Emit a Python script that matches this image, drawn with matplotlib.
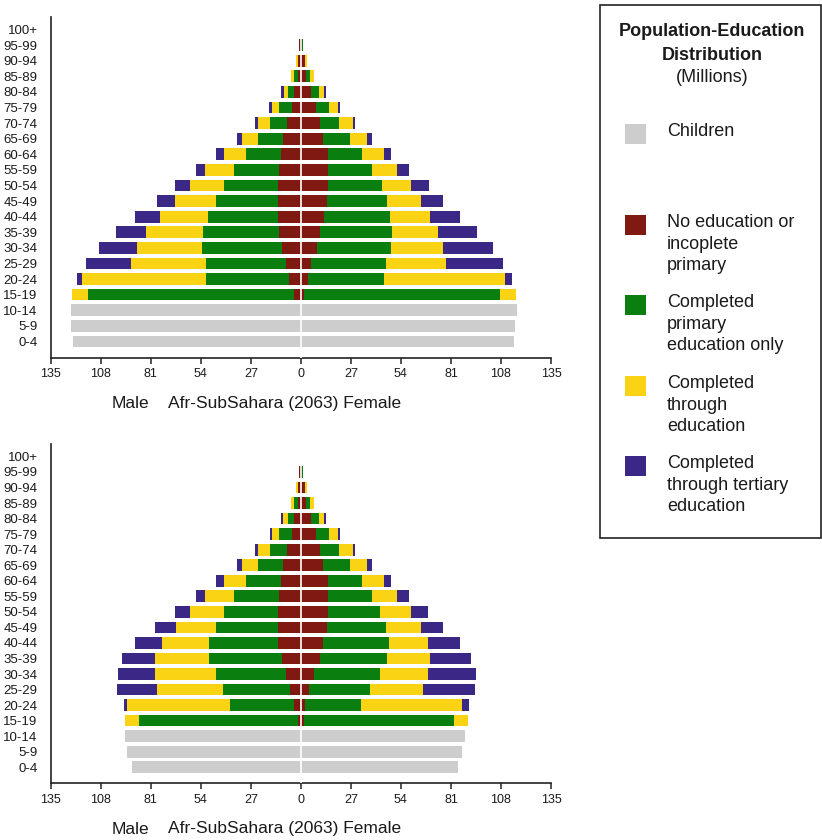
import matplotlib
matplotlib.use("Agg")
import matplotlib.pyplot as plt
from matplotlib.patches import Rectangle
import numpy as np

plt.rcParams["font.family"] = ["Liberation Sans", "DejaVu Sans"]

age_groups = ["0-4", "5-9", "10-14", "15-19", "20-24", "25-29", "30-34", "35-39",
              "40-44", "45-49", "50-54", "55-59", "60-64", "65-69", "70-74",
              "75-79", "80-84", "85-89", "90-94", "95-99", "100+"]

x_ticks = [-135, -108, -81, -54, -27, 0, 27, 54, 81, 108, 135]
x_tick_labels = ["135", "108", "81", "54", "27", "0", "27", "54", "81", "108", "135"]

# Children (ages 0-14), millions
top_children_male = [123.0, 124.1, 124.1]
top_children_female = [115.0, 115.5, 116.6]
bot_children_male = [90.9, 93.6, 95.0]
bot_children_female = [84.7, 86.9, 88.5]

# Ages 15-19 .. 100+: no education, primary, secondary, tertiary
top_male_none = [3.8, 6.5, 8.1, 10.3, 11.9, 12.4, 12.4, 12.4, 11.9, 10.8, 9.7, 7.6, 4.9, 3.8, 1.6, 1.6, 1.0, 0.0]
top_male_primary = [111.2, 44.8, 43.2, 43.2, 41.0, 37.8, 33.5, 29.1, 24.3, 18.9, 13.5, 9.2, 7.0, 3.2, 2.2, 0.0, 0.0, 0.0]
top_male_secondary = [8.6, 66.9, 40.5, 35.1, 30.8, 25.9, 22.1, 18.3, 15.6, 11.9, 8.6, 6.5, 3.8, 2.2, 1.6, 1.1, 0.0, 0.0]
top_male_tertiary = [0.0, 2.7, 24.3, 20.5, 16.2, 13.5, 9.7, 8.1, 4.9, 4.3, 2.7, 1.6, 1.6, 1.6, 0.0, 0.0, 0.0, 0.0]

top_female_none = [1.6, 3.8, 5.4, 8.6, 10.3, 12.4, 14.0, 14.6, 14.6, 14.6, 11.9, 10.3, 8.1, 5.4, 2.7, 2.0, 0.0, 0.0]
top_female_primary = [105.8, 41.0, 40.5, 39.9, 38.9, 35.6, 32.4, 29.1, 23.7, 18.3, 14.6, 10.3, 7.0, 4.3, 2.2, 0.0, 1.1, 0.0]
top_female_secondary = [8.6, 65.3, 32.4, 28.1, 24.8, 21.6, 18.3, 15.6, 13.5, 11.9, 9.2, 7.6, 4.9, 2.7, 2.2, 1.1, 0.0, 0.0]
top_female_tertiary = [0.0, 3.8, 30.8, 27.0, 21.0, 16.2, 11.9, 9.7, 6.5, 3.8, 2.7, 1.1, 1.1, 1.1, 0.0, 0.0, 0.0, 0.0]

bot_male_none = [1.6, 3.8, 5.9, 8.1, 10.3, 12.4, 12.4, 12.4, 11.9, 10.8, 9.7, 7.6, 4.9, 3.8, 1.6, 1.6, 1.0, 0.0]
bot_male_primary = [85.8, 34.5, 36.2, 37.8, 39.4, 37.2, 33.5, 29.1, 24.3, 18.9, 13.5, 9.2, 7.0, 3.2, 2.2, 0.0, 0.0, 0.0]
bot_male_secondary = [7.6, 55.6, 35.6, 32.9, 29.1, 25.4, 21.6, 18.3, 15.6, 11.9, 8.6, 6.5, 3.8, 2.7, 1.6, 1.1, 0.0, 0.0]
bot_male_tertiary = [0.0, 1.6, 21.6, 20.0, 17.8, 14.6, 11.3, 8.1, 4.9, 4.3, 2.7, 1.6, 1.1, 1.1, 0.0, 0.0, 0.0, 0.0]

bot_female_none = [1.6, 2.2, 4.3, 7.0, 10.3, 11.9, 14.0, 14.6, 14.6, 14.6, 11.9, 10.3, 8.1, 5.4, 2.7, 2.0, 0.0, 0.0]
bot_female_primary = [81.0, 30.2, 32.9, 35.6, 36.2, 35.6, 31.8, 28.1, 23.7, 18.3, 14.6, 10.3, 7.0, 4.3, 2.2, 0.0, 1.1, 0.0]
bot_female_secondary = [7.6, 54.5, 28.6, 25.9, 23.2, 21.0, 18.9, 16.7, 13.5, 11.9, 9.2, 7.6, 4.9, 2.7, 2.2, 1.1, 0.0, 0.0]
bot_female_tertiary = [0.0, 3.8, 28.1, 25.9, 22.1, 17.3, 11.9, 9.2, 6.5, 3.8, 2.7, 1.1, 1.1, 1.1, 0.0, 0.0, 0.0, 0.0]

legend_labels = ["Children", "No education or\nincoplete\nprimary",
                 "Completed\nprimary\neducation only", "Completed\nthrough\neducation",
                 "Completed\nthrough tertiary\neducation"]

C_CHILD = "#cccdcc"
C_NONE = "#801912"
C_PRIM = "#0a7f10"
C_SEC = "#fad414"
C_TER = "#3b2786"
edu_colors = [C_NONE, C_PRIM, C_SEC, C_TER]

W, H = 822, 840
fig = plt.figure(figsize=(W / 100, H / 100), dpi=100)

BAR_H = 0.75
TXT = "#1a1a1a"


def draw_pyramid(ax, children_m, children_f, male_levels, female_levels):
    n_child = len(children_m)
    y_child = np.arange(n_child)
    ax.barh(y_child, -np.array(children_m), height=BAR_H, color=C_CHILD, linewidth=0)
    ax.barh(y_child, np.array(children_f), height=BAR_H, color=C_CHILD, linewidth=0)
    y_adult = np.arange(n_child, n_child + len(male_levels[0]))
    cum_m = np.zeros(len(y_adult))
    cum_f = np.zeros(len(y_adult))
    for vals_m, vals_f, col in zip(male_levels, female_levels, edu_colors):
        vm = np.array(vals_m)
        vf = np.array(vals_f)
        ax.barh(y_adult, -vm, left=-cum_m, height=BAR_H, color=col, linewidth=0)
        ax.barh(y_adult, vf, left=cum_f, height=BAR_H, color=col, linewidth=0)
        cum_m += vm
        cum_f += vf
    ax.axvline(0, color="white", lw=1.2, zorder=3)
    ax.set_xlim(-135, 135)
    ax.set_ylim(-1.03, 20.8)
    ax.set_yticks(range(len(age_groups)))
    ax.set_yticklabels(age_groups)
    ax.set_xticks(x_ticks)
    ax.set_xticklabels(x_tick_labels)
    for s in ("top", "right"):
        ax.spines[s].set_visible(False)
    for s in ("left", "bottom"):
        ax.spines[s].set_linewidth(1.2)
        ax.spines[s].set_color("#222222")
    ax.tick_params(axis="y", length=0, pad=9.5, labelsize=9.5, labelcolor=TXT)
    ax.tick_params(axis="x", length=4.5, width=1.1, color="#222222", pad=3,
                   labelsize=9, labelcolor=TXT)


ax_left = 50.7 / W
ax_w = (551 - 50.7) / W
ax_top = fig.add_axes([ax_left, 1 - 357.5 / H, ax_w, (357.5 - 17) / H])
ax_bot = fig.add_axes([ax_left, 1 - 783.3 / H, ax_w, (783.3 - 444) / H])

draw_pyramid(ax_top, top_children_male, top_children_female,
             [top_male_none, top_male_primary, top_male_secondary, top_male_tertiary],
             [top_female_none, top_female_primary, top_female_secondary, top_female_tertiary])
draw_pyramid(ax_bot, bot_children_male, bot_children_female,
             [bot_male_none, bot_male_primary, bot_male_secondary, bot_male_tertiary],
             [bot_female_none, bot_female_primary, bot_female_secondary, bot_female_tertiary])

# Axis captions under each pyramid
for ycap in (403, 829):
    fig.text(130 / W, 1 - ycap / H, "Male", ha="center", va="center", fontsize=12.5, color=TXT)
    fig.text(168 / W, 1 - ycap / H, "Afr-SubSahara (2063) Female", ha="left", va="center",
             fontsize=12.5, color=TXT)

# Legend panel
fig.patches.append(Rectangle((599.5 / W, 1 - 538 / H), (821 - 599.5) / W, (538 - 5) / H,
                             transform=fig.transFigure, fill=False, edgecolor="#222222",
                             linewidth=1.2))
fig.text(712 / W, 1 - 32 / H, "Population-Education", ha="center", va="center",
         fontsize=13, fontweight="bold", color=TXT)
fig.text(712 / W, 1 - 55 / H, "Distribution", ha="center", va="center",
         fontsize=13, fontweight="bold", color=TXT)
fig.text(712 / W, 1 - 77 / H, "(Millions)", ha="center", va="center", fontsize=13, color=TXT)

legend_colors = [C_CHILD, C_NONE, C_PRIM, C_SEC, C_TER]
square_tops = [124, 215, 295, 376, 456]
for lab, col, ytop in zip(legend_labels, legend_colors, square_tops):
    fig.patches.append(Rectangle((625 / W, 1 - (ytop + 20) / H), 21 / W, 20 / H,
                                 transform=fig.transFigure, facecolor=col, edgecolor="none"))
    fig.text(667 / W, 1 - (ytop - 1) / H, lab, ha="left", va="top", fontsize=13,
             color=TXT, linespacing=1.36)

fig.savefig("out.png", dpi=100)
